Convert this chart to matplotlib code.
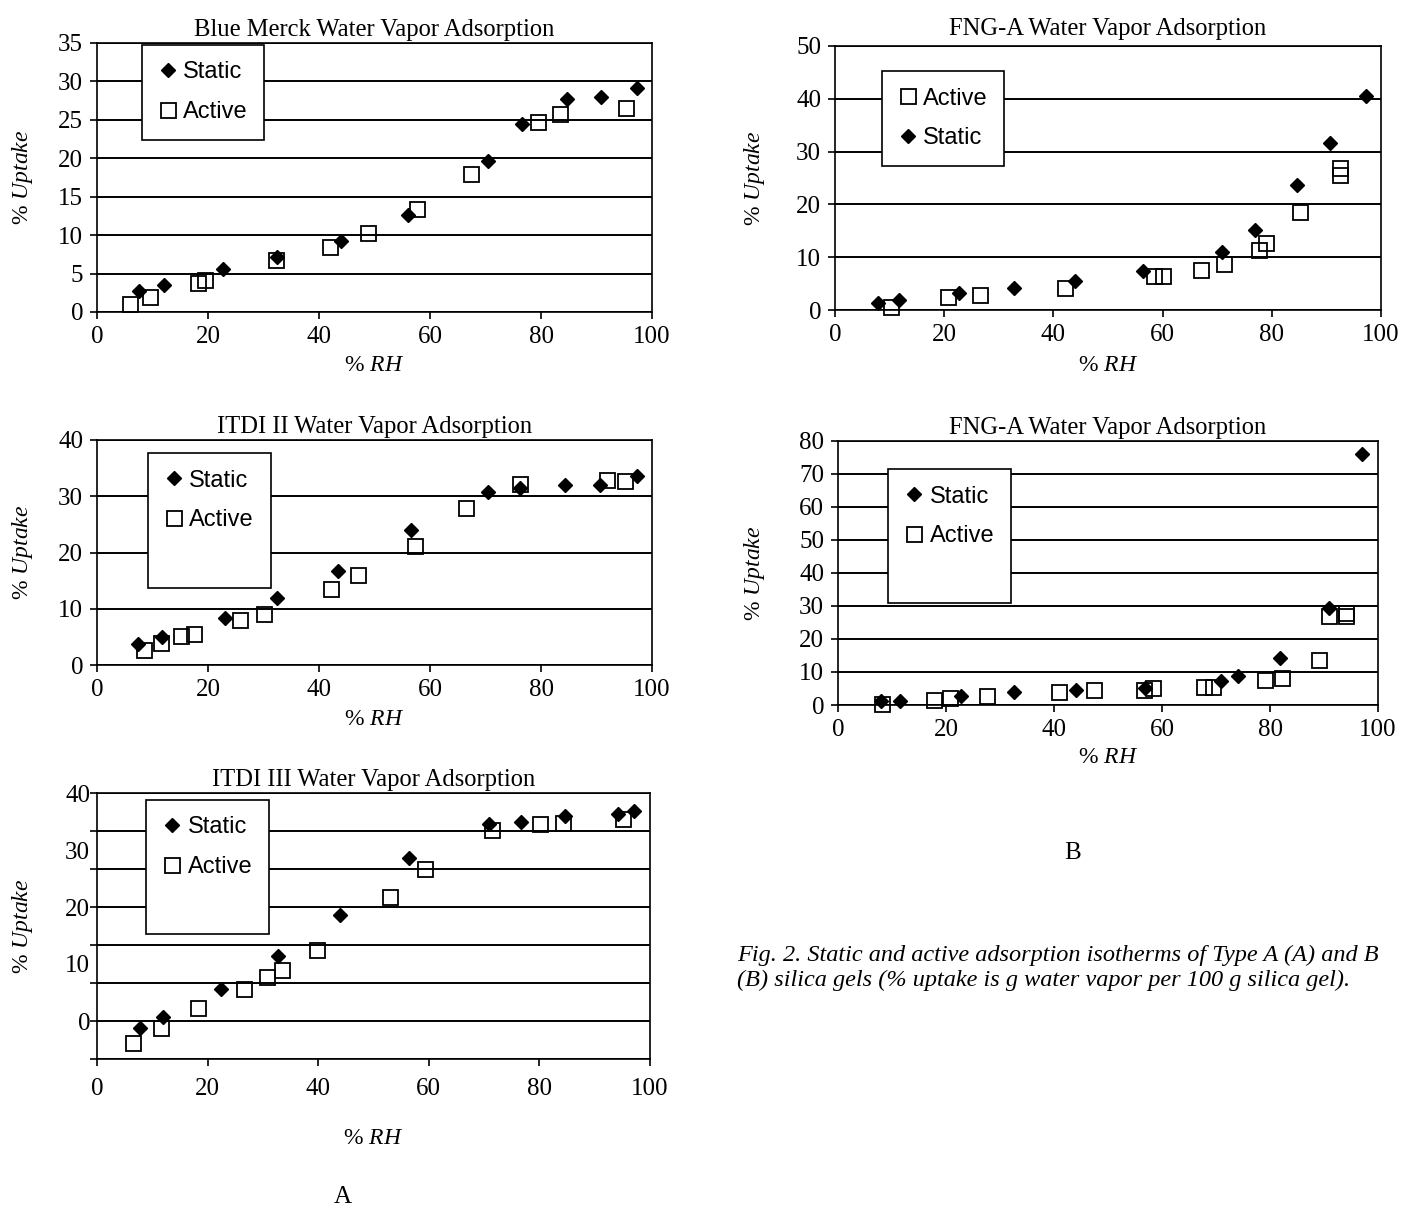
import matplotlib

matplotlib.use("Agg")
import matplotlib.pyplot as plt
import numpy as np

plt.rcParams["font.family"] = ["Liberation Serif", "DejaVu Serif"]
plt.rcParams["mathtext.fontset"] = "custom"
plt.rcParams["mathtext.rm"] = "Liberation Serif"
plt.rcParams["mathtext.it"] = "Liberation Serif:italic"

# ---- data (%RH, %uptake) ----
merck_static_rh = [7.6, 12.0, 22.7, 32.5, 44.0, 56.1, 70.5, 76.5, 84.6, 90.8, 97.3]
merck_static_up = [2.7, 3.5, 5.6, 7.2, 9.3, 12.6, 19.6, 24.5, 27.7, 28.0, 29.1]
merck_active_rh = [6.0, 9.5, 18.2, 19.4, 32.2, 42.0, 48.8, 57.6, 67.3, 79.5, 83.4, 95.4]
merck_active_up = [1.0, 2.0, 3.8, 4.1, 6.8, 8.5, 10.3, 13.4, 17.9, 24.7, 25.8, 26.6]

fnga1_static_rh = [7.8, 11.7, 22.8, 32.8, 43.9, 56.4, 70.8, 77.0, 84.6, 90.7, 97.3]
fnga1_static_up = [1.4, 1.9, 3.25, 4.25, 5.4, 7.3, 10.9, 15.1, 23.6, 31.7, 40.6]
fnga1_active_rh = [10.2, 20.7, 26.5, 42.1, 58.5, 60.0, 67.1, 71.2, 77.7, 79.0, 85.2, 92.5, 92.5]
fnga1_active_up = [0.6, 2.4, 2.9, 4.25, 6.4, 6.4, 7.6, 8.75, 11.4, 12.6, 18.6, 25.6, 26.9]

itdi2_static_rh = [7.4, 11.8, 23.1, 32.4, 43.4, 56.5, 70.4, 76.2, 84.3, 90.6, 97.3]
itdi2_static_up = [3.7, 5.0, 8.3, 12.0, 16.8, 24.0, 30.8, 31.4, 32.0, 32.0, 33.6]
itdi2_active_rh = [8.4, 11.6, 15.1, 17.4, 25.8, 30.0, 42.2, 47.0, 57.3, 66.4, 76.2, 91.9, 95.2]
itdi2_active_up = [2.7, 3.9, 5.2, 5.5, 8.0, 9.0, 13.6, 16.0, 21.2, 27.9, 32.2, 32.9, 32.7]

fnga2_static_rh = [7.9, 11.5, 22.8, 32.5, 44.1, 56.9, 71.0, 74.0, 81.8, 91.0, 97.1]
fnga2_static_up = [1.3, 1.3, 2.7, 3.8, 4.6, 5.1, 7.4, 8.8, 14.2, 29.4, 76.1]
fnga2_active_rh = [8.1, 17.7, 20.8, 27.6, 40.9, 47.4, 56.6, 58.4, 67.8, 69.4, 79.0, 82.2,
                   89.0, 91.0, 94.0, 94.0]
fnga2_active_up = [0.2, 1.5, 2.0, 2.7, 3.8, 4.6, 4.4, 5.1, 5.6, 5.6, 7.6, 8.1,
                   13.7, 26.9, 26.9, 27.9]

itdi3_static_rh = [7.7, 11.9, 22.5, 32.7, 43.9, 56.4, 70.8, 76.7, 84.6, 94.3, 97.1]
itdi3_static_up = [-1.3, 0.7, 5.6, 11.4, 18.6, 28.6, 34.6, 34.9, 35.9, 36.3, 36.8]
itdi3_active_rh = [6.6, 11.6, 18.2, 26.6, 30.8, 33.5, 39.8, 52.9, 59.4, 71.5, 80.1, 84.2, 95.1]
itdi3_active_up = [-3.9, -1.2, 2.2, 5.6, 7.7, 8.9, 12.4, 21.7, 26.6, 33.5, 34.6, 34.7, 35.5]

W, H = 1402, 1206
fig = plt.figure(figsize=(W / 100, H / 100), dpi=100)


def px_axes(left, top, right, bottom):
    return fig.add_axes([left / W, 1 - bottom / H, (right - left) / W, (bottom - top) / H])


def style(ax, title, ymax, ystep, ylab_x, xlab_y, tpad=5):
    ax.set_xlim(0, 100)
    ax.set_ylim(0, ymax)
    ax.set_xticks(np.arange(0, 101, 20))
    ax.set_yticks(np.arange(0, ymax + 0.1, ystep))
    ax.grid(axis="y", color="black", linewidth=1.4)
    ax.tick_params(direction="out", length=5, width=1.2, labelsize=18, pad=5)
    for s in ax.spines.values():
        s.set_linewidth(1.2)
    ax.set_title(title, fontsize=17.7, pad=tpad)
    ax.set_ylabel(r"% $\mathit{Uptake}$", fontsize=17)
    ax.set_xlabel(r"% $\mathit{RH}$", fontsize=17)
    ax.yaxis.set_label_coords(ylab_x, 0.5)
    ax.xaxis.set_label_coords(0.5, xlab_y)
    ax.xaxis.label.set_va("center")
    ax.yaxis.label.set_va("center")


def draw(ax, srh, sup, arh, aup, order, lx, ly, tall=False):
    hs = ax.plot(srh, sup, ls="none", marker="D", ms=7.2, color="black",
                 label="Static", clip_on=False, zorder=3)[0]
    ha = ax.plot(arh, aup, ls="none", marker="s", ms=10.8, mfc="none", mec="black",
                 mew=1.3, label="Active", clip_on=False, zorder=4)[0]
    handles = [hs, ha] if order == "SA" else [ha, hs]
    if tall:
        # the original boxes leave an empty row below the entries
        handles.append(ax.plot([], [], ls="none", label=" ")[0])
    leg = ax.legend(handles=handles, loc="upper left", bbox_to_anchor=(lx, ly),
                    prop={"family": "Liberation Sans", "size": 17},
                    frameon=True, fancybox=False, framealpha=1, edgecolor="black",
                    handlelength=0.8, handletextpad=0.25, borderpad=0.7,
                    labelspacing=0.75, borderaxespad=0)
    leg.get_frame().set_linewidth(1.2)
    leg.set_zorder(5)


ax1 = px_axes(97, 43, 652, 312)
style(ax1, "Blue Merck Water Vapor Adsorption", 35, 5, -0.135, -0.2)
draw(ax1, merck_static_rh, merck_static_up, merck_active_rh, merck_active_up, "SA", 0.081, 0.993)

ax2 = px_axes(835, 46, 1381, 310)
style(ax2, "FNG-A Water Vapor Adsorption", 50, 10, -0.147, -0.212, tpad=8)
draw(ax2, fnga1_static_rh, fnga1_static_up, fnga1_active_rh, fnga1_active_up, "AS", 0.086, 0.905)

ax3 = px_axes(97, 440, 652, 665)
style(ax3, "ITDI II Water Vapor Adsorption", 40, 10, -0.135, -0.244)
draw(ax3, itdi2_static_rh, itdi2_static_up, itdi2_active_rh, itdi2_active_up, "SA", 0.092, 0.942,
     tall=True)

ax4 = px_axes(838, 441, 1378, 705)
style(ax4, "FNG-A Water Vapor Adsorption", 80, 10, -0.154, -0.197)
draw(ax4, fnga2_static_rh, fnga2_static_up, fnga2_active_rh, fnga2_active_up, "SA", 0.093, 0.894,
     tall=True)

# ITDI III: labelled ticks every 10, grid lines every 20/3 as in the original
ax5 = px_axes(97, 793, 650, 1059)
style(ax5, "ITDI III Water Vapor Adsorption", 40, 10, -0.135, -0.297)
ax5.set_ylim(-20 / 3, 40)
ax5.grid(False)
ax5.yaxis.remove_overlapping_locs = False
ax5.set_yticks(np.arange(-20 / 3, 40.1, 20 / 3), minor=True)
ax5.grid(axis="y", which="minor", color="black", linewidth=1.4)
ax5.tick_params(axis="y", which="major", length=0)
ax5.tick_params(axis="y", which="minor", direction="out", length=5, width=1.2)
ax5.tick_params(axis="x", pad=9)
draw(ax5, itdi3_static_rh, itdi3_static_up, itdi3_active_rh, itdi3_active_up, "SA", 0.089, 0.974,
     tall=True)

fig.text(343 / W, 1 - 1197 / H, "A", fontsize=18, ha="center", va="center")
fig.text(1073 / W, 1 - 853 / H, "B", fontsize=18, ha="center", va="center")
fig.text(737 / W, 1 - 955 / H,
         "Fig. 2. Static and active adsorption isotherms of Type A (A) and B",
         fontsize=17.5, style="italic", ha="left", va="center")
fig.text(737 / W, 1 - 980 / H,
         "(B) silica gels (% uptake is g water vapor per 100 g silica gel).",
         fontsize=17.5, style="italic", ha="left", va="center")

fig.savefig("out.png", dpi=100)
